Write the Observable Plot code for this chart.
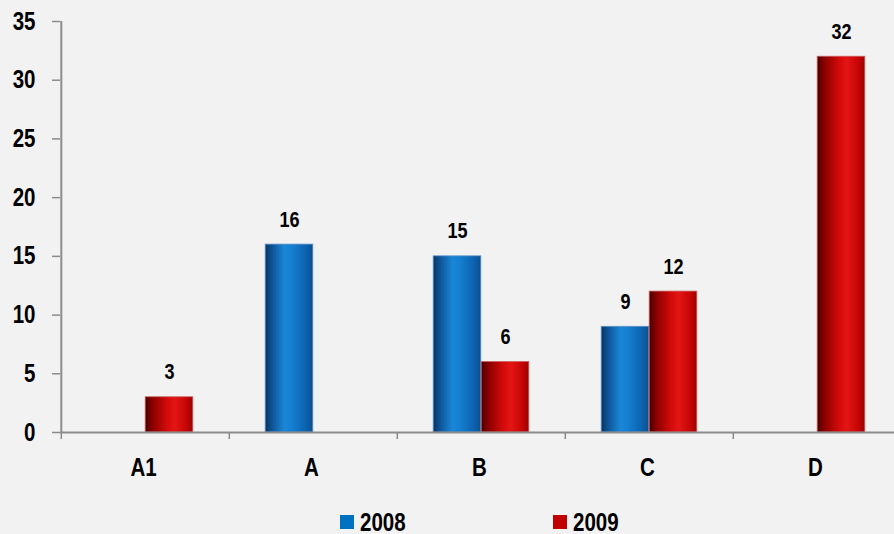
<!DOCTYPE html>
<html>
<head>
<meta charset="utf-8">
<script src="https://cdn.jsdelivr.net/npm/d3@7"></script>
<script src="https://cdn.jsdelivr.net/npm/@observablehq/plot@0.6"></script>
<style>
  html, body { margin: 0; padding: 0; background: #f2f2f2; overflow: hidden; width: 894px; height: 534px; position: relative; }
  #chart svg { display: block; }
  .item { position: absolute; top: 509px; height: 26px; display: flex; align-items: center;
          font-family: "Liberation Sans", Arial, sans-serif;
          font-weight: bold; font-size: 25px; color: #000; white-space: nowrap; }
  .sw { width: 14px; height: 14px; margin-right: 6px; flex: none; }
  .lbl { display: inline-block; transform: scaleX(0.82); transform-origin: 0 50%; }
</style>
</head>
<body>
<div id="chart"></div>
<div class="item" style="left:340px"><span class="sw" style="background:#0070c0"></span><span class="lbl">2008</span></div>
<div class="item" style="left:553px"><span class="sw" style="background:#c00000"></span><span class="lbl">2009</span></div>
<script>
const categories = ["A1", "A", "B", "C", "D"];
const years = ["2008", "2009"];
const values2008 = [null, 16, 15, 9, null];
const values2009 = [3, null, 6, 12, 32];
const yTicks = [0, 5, 10, 15, 20, 25, 30, 35];

const rows2008 = categories.map((c, i) => ({category: c, year: years[0], value: values2008[i]})).filter(d => d.value != null);
const rows2009 = categories.map((c, i) => ({category: c, year: years[1], value: values2009[i]})).filter(d => d.value != null);

const W = 902, ML = 60, MR = 0;
const step = (W - ML - MR) / categories.length;
const half = step / 2;
const bw = 48;
const font = "'Liberation Sans', Arial, sans-serif";
const axisGray = "#8c8c8c";

function gradients() {
  const defs = d3.create("svg:defs");
  const gb = defs.append("linearGradient").attr("id", "g2008").attr("x1", 0).attr("x2", 1).attr("y1", 0).attr("y2", 0);
  [["0%", "#0a3463"], ["12%", "#0d4f90"], ["40%", "#1a86d6"], ["55%", "#1580d2"], ["85%", "#0c63b0"], ["100%", "#0b4f8e"]]
    .forEach(([o, c]) => gb.append("stop").attr("offset", o).attr("stop-color", c));
  const gr = defs.append("linearGradient").attr("id", "g2009").attr("x1", 0).attr("x2", 1).attr("y1", 0).attr("y2", 0);
  [["0%", "#4a0000"], ["15%", "#8a0000"], ["45%", "#d20a0a"], ["62%", "#e31515"], ["85%", "#c80606"], ["100%", "#a00000"]]
    .forEach(([o, c]) => gr.append("stop").attr("offset", o).attr("stop-color", c));
  return defs.node();
}

const plot = Plot.plot({
  width: W,
  height: 500,
  marginLeft: ML,
  marginRight: MR,
  marginTop: 21,
  marginBottom: 68,
  style: {background: "#f2f2f2", fontFamily: font, overflow: "visible", maxWidth: "none"},
  x: {type: "band", domain: categories, padding: 0, axis: null, label: null},
  y: {domain: [0, 35], axis: null, label: null},
  marks: [
    gradients,
    Plot.barY(rows2008, {x: "category", y: "value", fill: "url(#g2008)", stroke: "#5b8fc4", strokeWidth: 0.8,
      insetLeft: half - bw, insetRight: half}),
    Plot.barY(rows2009, {x: "category", y: "value", fill: "url(#g2009)", stroke: "#c86060", strokeWidth: 0.8,
      insetLeft: half, insetRight: half - bw}),
    Plot.text(rows2008, {x: "category", y: "value", text: d => String(d.value), dx: -bw / 2, dy: -25,
      fontSize: 22, fontWeight: "bold", fill: "#000"}),
    Plot.text(rows2009, {x: "category", y: "value", text: d => String(d.value), dx: bw / 2, dy: -25,
      fontSize: 22, fontWeight: "bold", fill: "#000"}),
    Plot.ruleY([0], {stroke: axisGray, strokeWidth: 2}),
    Plot.ruleX([categories[0]], {x: d => d, y1: 0, y2: 35, dx: -half, stroke: axisGray, strokeWidth: 2}),
    Plot.axisX({ticks: categories, tickSize: 7, tickFormat: () => "", label: null, dx: -half, stroke: axisGray, strokeWidth: 1.5}),
    Plot.axisX({ticks: categories, tickSize: 0, tickPadding: 26, label: null, fontSize: 25, fontWeight: "bold", fill: "#000", dx: -2}),
    Plot.axisY({ticks: yTicks, tickSize: 8, tickPadding: 17, label: null, fontSize: 25, fontWeight: "bold", fill: "#000", stroke: axisGray, strokeWidth: 1.5})
  ]
});

// Narrow the bold sans glyphs horizontally (Arial Narrow look), keeping each anchor in place
d3.select(plot).selectAll("text").each(function() {
  let tr = this.getAttribute("transform") || "";
  const x = this.getAttribute("x");
  if (x !== null && x !== "" && !isNaN(+x)) { tr += ` translate(${x},0)`; this.removeAttribute("x"); }
  this.setAttribute("transform", (tr + " scale(0.82,1)").trim());
});

document.getElementById("chart").appendChild(plot);
</script>
</body>
</html>
